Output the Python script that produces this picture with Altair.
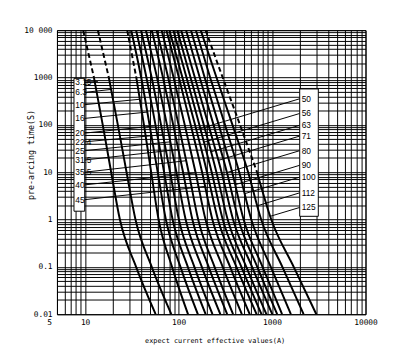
import altair as alt
import pandas as pd

ratings = ["3.15", "6.3", "10", "16", "20", "22.4", "25", "31.5", "35.5", "40",
           "45", "50", "56", "63", "71", "80", "90", "100", "112", "125"]
times = [10000, 1000, 100, 10, 1, 0.1, 0.01]
currents = {
    "3.15": [9.53, 12.43, 15.44, 19.0, 23.56, 35.1, 56.8],
    "6.3": [13.69, 17.93, 22.39, 27.76, 34.58, 51.6, 83.6],
    "10": [28.2, 35.3, 42.6, 50.9, 61.1, 85.1, 126.1],
    "16": [31.1, 39.8, 48.9, 59.8, 73.1, 104.7, 160.6],
    "20": [35.1, 45.3, 56.6, 70.0, 86.3, 125.5, 194.7],
    "22.4": [39.6, 51.5, 64.9, 81.1, 100.7, 147.5, 230.5],
    "25": [44.7, 58.8, 75.1, 94.8, 119, 177.2, 279.7],
    "31.5": [51.6, 68.1, 87.6, 111.7, 140.5, 209.8, 331.1],
    "35.5": [58.2, 77.3, 100, 128.2, 162.1, 242.5, 382.7],
    "40": [65.7, 88.4, 116.4, 151.8, 194.2, 296.3, 475.4],
    "45": [74.1, 100.7, 134.9, 178.5, 229.9, 355.9, 576.8],
    "50": [79.7, 109.9, 150.0, 201.4, 263.9, 415.3, 683.2],
    "56": [87.8, 121.6, 166.8, 226.1, 296.9, 469.7, 770.7],
    "63": [96.7, 134.3, 186, 253.9, 335.1, 530.1, 869.5],
    "71": [106.5, 149.3, 208.8, 288.5, 382.7, 611.3, 1005],
    "80": [120.1, 168.4, 236.7, 328.6, 437.0, 694.6, 1134],
    "90": [135.6, 190.1, 269.1, 374.5, 496.6, 791.4, 1279],
    "100": [153, 217.6, 314, 445.5, 599.6, 969.2, 1590],
    "112": [172.6, 254.5, 377.2, 554.9, 764.9, 1289, 2175],
    "125": [194.7, 296.3, 454.2, 691.3, 980.9, 1705, 2977],
}
# curves drawn dashed above this pre-arcing time
dashed_above = {"3.15": 1000, "6.3": 1000, "10": 1000, "125": 10}

left_labels = ratings[:11]
left_label_t = [801, 485, 267, 137, 67, 43.8, 28.5, 18.1, 10, 5.4, 2.63]
left_end_I = [13.69, 18.96, 38.6, 46.3, 56.7, 68.0, 81.7, 99.3, 121, 152.2, 192.4]
left_end_t = [820, 560, 347.8, 186.3, 95.6, 62.0, 43.8, 30.2, 17.5, 9.67, 5.01]
right_labels = ratings[11:]
right_label_t = [356, 174, 98, 58, 28.5, 14, 7.87, 3.67, 1.8]
right_end_I = [154.8, 185.5, 221.2, 266.5, 329.5, 404.6, 508.6, 694.5, 955.3]
right_end_t = [78.6, 42.9, 26.9, 17.8, 9.85, 5.46, 3.52, 1.95, 1.17]

left_box = {"x": 7.6, "x2": 9.9, "y": 1.5, "y2": 960}
right_box = {"x": 1977, "x2": 3126, "y": 1.17, "y2": 574}
left_text_I = 7.85
right_text_I = 2075

x_grid = [round(k * 10 ** e, 6) for e in range(0, 4) for k in range(1, 10)] + [10000]
x_grid = [v for v in x_grid if v >= 5]
y_grid = [round(k * 10 ** e, 6) for e in range(-2, 4) for k in range(1, 10)] + [10000]

solid_rows, dash_rows = [], []
for r in ratings:
    thr = dashed_above.get(r)
    for j, (t, i) in enumerate(zip(times, currents[r])):
        row = {"rating": r, "I": i, "t": t, "o": j}
        if thr is None or t <= thr:
            solid_rows.append(row)
        if thr is not None and t >= thr:
            dash_rows.append(row)
solid_df = pd.DataFrame(solid_rows)
dash_df = pd.DataFrame(dash_rows)

lead_rows = []
for k, lab in enumerate(left_labels):
    lead_rows.append({"I": left_box["x2"], "t": left_label_t[k], "I2": left_end_I[k], "t2": left_end_t[k]})
for k, lab in enumerate(right_labels):
    lead_rows.append({"I": right_box["x"], "t": right_label_t[k], "I2": right_end_I[k], "t2": right_end_t[k]})
lead_df = pd.DataFrame(lead_rows)

lab_df = pd.DataFrame(
    [{"I": left_text_I, "t": left_label_t[k], "lab": l} for k, l in enumerate(left_labels)]
    + [{"I": right_text_I, "t": right_label_t[k], "lab": l} for k, l in enumerate(right_labels)]
)
box_df = pd.DataFrame([left_box, right_box])

xs = alt.Scale(type="log", domain=[5, 10000], nice=False)
ys = alt.Scale(type="log", domain=[0.01, 10000], nice=False)

x_axis = alt.Axis(
    values=x_grid, grid=True, title="expect current effective values(A)",
    labelExpr="indexof([5,10,100,1000,10000], datum.value) >= 0 ? format(datum.value, 'd') : ''",
    labelOverlap=False, labelFlush=False, labelPadding=4,
    labelOffset={"condition": {"test": "datum.value == 5", "value": -8}, "value": 0},
    titleY=23, titleX=161, titleFontSize=7,
)
y_axis = alt.Axis(
    values=y_grid, grid=True, title="pre-arcing time(S)",
    labelExpr="datum.value == 10000 ? '10 000' : (indexof([0.01,0.1,1,10,100,1000], datum.value) >= 0 ? format(datum.value, '~g') : '')",
    labelOverlap=False, labelFlush=False, labelPadding=5,
    titleX=-27, titleY=127, titleAngle=270, titleAlign="center", titleBaseline="middle",
    titleFontSize=8.5,
)

grid_layer = alt.Chart(solid_df).mark_point(opacity=0).encode(
    x=alt.X("I:Q", scale=xs, axis=x_axis),
    y=alt.Y("t:Q", scale=ys, axis=y_axis),
)
curves = alt.Chart(solid_df).mark_line(color="black", strokeWidth=2, interpolate="monotone", clip=True).encode(
    x=alt.X("I:Q", scale=xs), y=alt.Y("t:Q", scale=ys), detail="rating:N", order="o:Q",
)
dashed = alt.Chart(dash_df).mark_line(
    color="black", strokeWidth=2, interpolate="monotone", clip=True, strokeDash=[5, 3]
).encode(
    x=alt.X("I:Q", scale=xs), y=alt.Y("t:Q", scale=ys), detail="rating:N", order="o:Q",
)
boxes = alt.Chart(box_df).mark_rect(fill="white", stroke="black", strokeWidth=1).encode(
    x=alt.X("x:Q", scale=xs), x2="x2:Q", y=alt.Y("y:Q", scale=ys), y2="y2:Q"
)
leads = alt.Chart(lead_df).mark_rule(color="black", strokeWidth=1).encode(
    x=alt.X("I:Q", scale=xs), x2="I2:Q", y=alt.Y("t:Q", scale=ys), y2="t2:Q"
)
labels = alt.Chart(lab_df).mark_text(
    align="left", baseline="middle", font="Liberation Sans", fontSize=8.5, color="black"
).encode(x=alt.X("I:Q", scale=xs), y=alt.Y("t:Q", scale=ys), text="lab:N")

chart = alt.layer(grid_layer, curves, dashed, leads, boxes, labels).properties(
    width=315, height=290,
    padding={"left": 50, "top": 19, "right": 25, "bottom": 39},
    autosize=alt.AutoSizeParams(type="none"),
).configure_view(stroke="black", strokeWidth=1).configure_axis(
    gridColor="black", gridOpacity=1, gridWidth=1, domain=False, ticks=False,
    labelFont="DejaVu Sans Mono", labelFontSize=8, labelColor="black",
    titleFont="DejaVu Sans Mono", titleFontWeight="normal", titleColor="black",
)

chart.save("out.html", embed_options={"renderer": "svg", "actions": False})
